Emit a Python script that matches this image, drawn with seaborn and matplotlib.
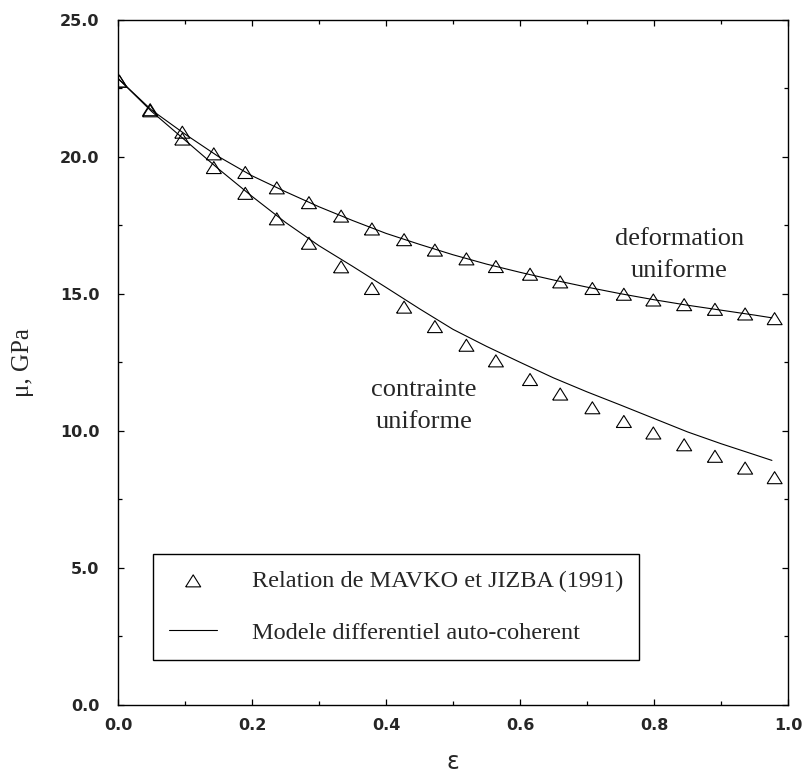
import matplotlib
matplotlib.use("Agg")
import matplotlib.pyplot as plt
import matplotlib.ticker as mticker
import numpy as np
import pandas as pd
import seaborn as sns

# ε positions of the MAVKO & JIZBA points (shared by both branches)
EPS_PTS = [0.002, 0.048, 0.096, 0.143, 0.190, 0.237, 0.285, 0.333, 0.379, 0.427, 0.473,
           0.520, 0.564, 0.615, 0.660, 0.708, 0.755, 0.799, 0.845, 0.891, 0.936, 0.980]
MU_DEF_PTS = [22.75, 21.71, 20.89, 20.10, 19.42, 18.86, 18.32, 17.83, 17.36, 16.97, 16.59,
              16.27, 15.99, 15.71, 15.43, 15.19, 14.98, 14.77, 14.60, 14.43, 14.26, 14.09]
MU_CON_PTS = [22.75, 21.67, 20.64, 19.60, 18.66, 17.73, 16.84, 15.98, 15.19, 14.51, 13.80,
              13.12, 12.55, 11.87, 11.34, 10.84, 10.34, 9.92, 9.49, 9.07, 8.64, 8.29]

# differential self-consistent model curves
EPS_CURVE = [0.0, 0.05, 0.1, 0.15, 0.2, 0.25, 0.3, 0.35, 0.4, 0.45, 0.5,
             0.55, 0.6, 0.65, 0.7, 0.75, 0.8, 0.85, 0.9, 0.95, 0.976]
MU_DEF_CURVE = [22.85, 21.70, 20.82, 20.00, 19.30, 18.72, 18.17, 17.67, 17.20, 16.80, 16.42,
                16.08, 15.78, 15.50, 15.24, 15.00, 14.78, 14.58, 14.40, 14.22, 14.12]
MU_CON_CURVE = [22.85, 21.65, 20.60, 19.55, 18.55, 17.60, 16.75, 16.00, 15.23, 14.45, 13.70,
                13.08, 12.50, 11.93, 11.42, 10.94, 10.45, 9.96, 9.53, 9.13, 8.92]

X_TICKS = [0.0, 0.2, 0.4, 0.6, 0.8, 1.0]
Y_TICKS = [0.0, 5.0, 10.0, 15.0, 20.0, 25.0]

LABEL_PTS = "Relation de MAVKO et JIZBA (1991)"
LABEL_CURVE = "Modele differentiel auto-coherent"

SERIF = ["Liberation Serif", "DejaVu Serif"]
SANS = ["DejaVu Sans"]

sns.set_theme(style="ticks")
plt.rcParams["font.family"] = SERIF

pts = pd.DataFrame({"eps": EPS_PTS, "def": MU_DEF_PTS, "con": MU_CON_PTS})
curve = pd.DataFrame({"eps": EPS_CURVE, "def": MU_DEF_CURVE, "con": MU_CON_CURVE})

# wide open triangle
tri = [(-1.0, -0.8), (1.0, -0.8), (0.0, 0.8), (-1.0, -0.8)]

fig = plt.figure(figsize=(8.04, 7.76), dpi=100)
ax = fig.add_axes([118 / 804, 1 - 705 / 776, 670 / 804, 685.5 / 776])

for col in ("def", "con"):
    sns.scatterplot(data=pts, x="eps", y=col, marker=tri, s=10.8 ** 2,
                    facecolor="none", edgecolor="black", linewidth=0.8,
                    label=LABEL_PTS if col == "def" else None, ax=ax, zorder=3)
for col in ("def", "con"):
    sns.lineplot(data=curve, x="eps", y=col, color="black", linewidth=0.8,
                 label=LABEL_CURVE if col == "def" else None, ax=ax)

ax.set_xlim(0, 1.0)
ax.set_ylim(0, 25.0)
ax.set_xticks(X_TICKS)
ax.set_yticks(Y_TICKS)
ax.xaxis.set_minor_locator(mticker.MultipleLocator(0.1))
ax.yaxis.set_minor_locator(mticker.MultipleLocator(2.5))
ax.xaxis.set_major_formatter(mticker.FormatStrFormatter("%.1f"))
ax.yaxis.set_major_formatter(mticker.FormatStrFormatter("%.1f"))
ax.tick_params(which="both", direction="in", top=True, right=True, width=0.9, color="black")
ax.tick_params(which="major", length=4.5)
ax.tick_params(which="minor", length=2.6)
ax.tick_params(axis="x", which="major", pad=9)
ax.tick_params(axis="y", which="major", pad=13.5)
for lab in ax.get_xticklabels() + ax.get_yticklabels():
    lab.set_fontfamily(SANS)
    lab.set_fontsize(11.5)
    lab.set_fontweight("bold")
for sp in ax.spines.values():
    sp.set_linewidth(1.0)
    sp.set_color("black")

ax.set_xlabel("ε", fontsize=17, family=SANS)
ax.xaxis.set_label_coords(0.5, -0.066)
ax.set_ylabel("μ, GPa", fontsize=18)
ax.yaxis.set_label_coords(-0.125, 0.5)

ax.text(0.838, 16.4, "deformation\nuniforme", ha="center", va="center",
        fontsize=19, linespacing=1.6)
ax.text(0.457, 10.9, "contrainte\nuniforme", ha="center", va="center",
        fontsize=19, linespacing=1.6)

handles, labels = ax.get_legend_handles_labels()
order = [labels.index(LABEL_PTS), labels.index(LABEL_CURVE)]
leg = ax.legend([handles[i] for i in order], [labels[i] for i in order],
                loc="upper left", bbox_to_anchor=(0.052, 0.22), fontsize=17.5,
                frameon=True, fancybox=False, framealpha=1, edgecolor="black",
                borderpad=0.66, labelspacing=1.22, handlelength=2.0,
                handletextpad=1.42, scatterpoints=1, borderaxespad=0)
leg.get_frame().set_linewidth(1.0)

fig.savefig("out.png", dpi=100)
